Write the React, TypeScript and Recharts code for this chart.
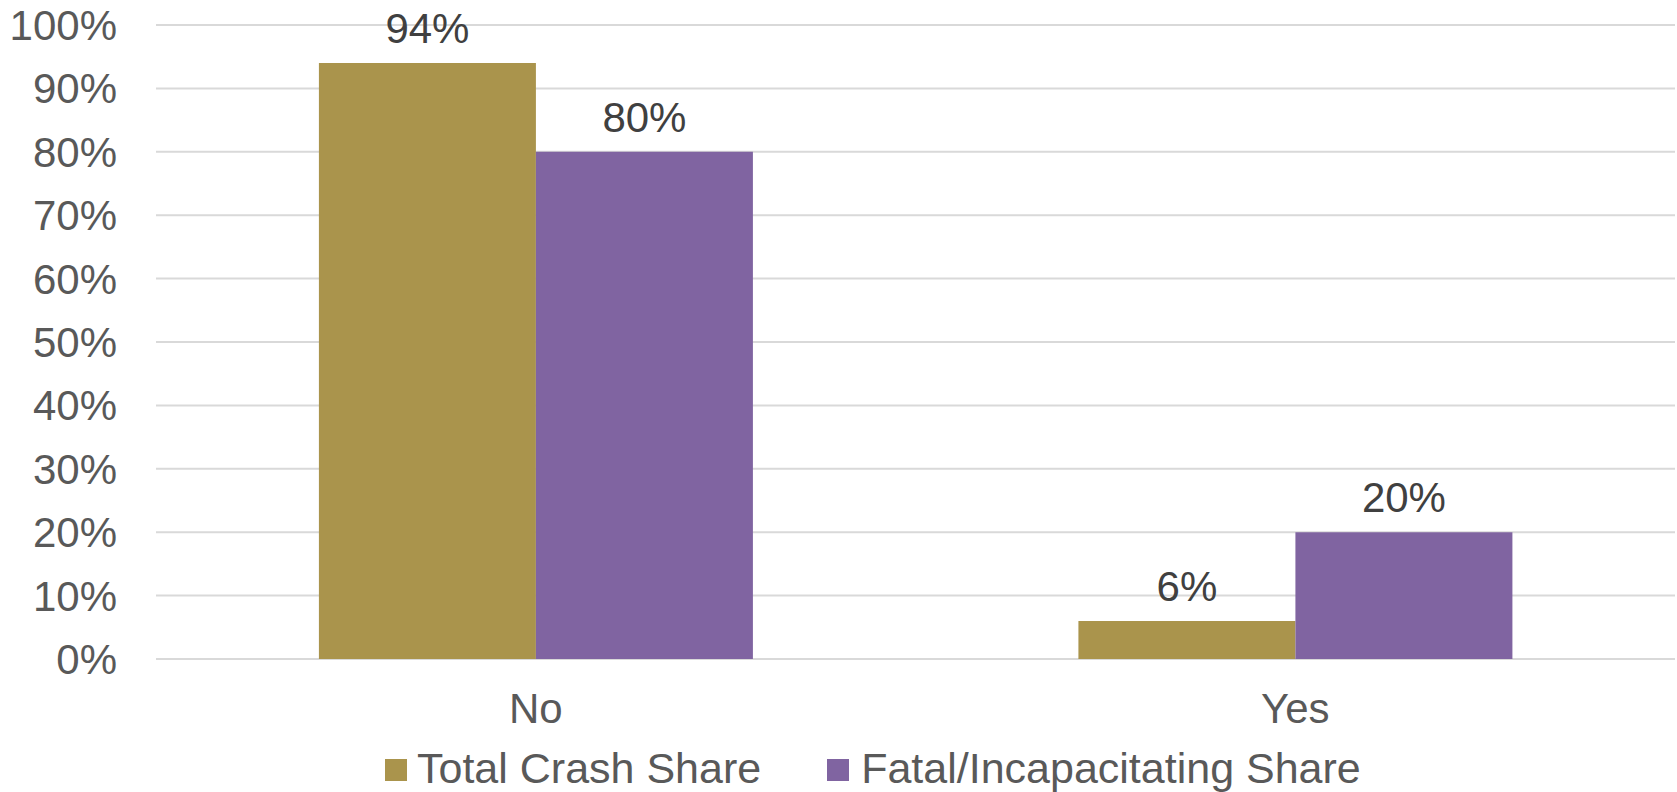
import React from 'react';
import {
  BarChart,
  Bar,
  XAxis,
  YAxis,
  CartesianGrid,
  Legend,
  LabelList
} from 'recharts';

// crash share by category, in percent
const categories = ['No', 'Yes'];
const totalCrashShare = [94, 6];
const fatalIncapacitatingShare = [80, 20];
const yTicks = [0, 10, 20, 30, 40, 50, 60, 70, 80, 90, 100];

const seriesNames = ['Total Crash Share', 'Fatal/Incapacitating Share'];
const seriesColors = ['#AA944C', '#8064A1'];

const data = categories.map((category, i) => ({
  category,
  total: totalCrashShare[i],
  fatal: fatalIncapacitatingShare[i]
}));

const FONT = '"Liberation Sans", Arial, sans-serif';

// legend keeps the series order (recharts sorts its payload by name)
const renderLegend = (props: any) => {
  const { payload = [] } = props;
  const items = [...payload].sort(
    (a: any, b: any) => seriesNames.indexOf(a.value) - seriesNames.indexOf(b.value)
  );
  return (
    <div
      style={{
        display: 'flex',
        height: 44,
        lineHeight: '44px',
        paddingLeft: 385,
        fontSize: 43,
        fontFamily: FONT,
        color: '#595959',
        whiteSpace: 'nowrap'
      }}
    >
      {items.map((entry: any, i: number) => (
        <div
          key={entry.value}
          style={{ display: 'flex', alignItems: 'flex-start', marginRight: i === 0 ? 66 : 0 }}
        >
          <span
            style={{
              display: 'block',
              width: 22,
              height: 22,
              marginTop: 13,
              marginRight: i === 0 ? 10 : 12,
              background: entry.color
            }}
          />
          <span>{entry.value}</span>
        </div>
      ))}
    </div>
  );
};

const pct = (v: number) => `${v}%`;

export default function App() {
  return (
    <div style={{ width: 1677, height: 792, background: '#fff' }}>
      <style>{'body{margin:0}'}</style>
      <BarChart
        width={1677}
        height={792}
        data={data}
        margin={{ top: 25, right: 2, left: 0, bottom: 0 }}
        barGap={0}
        barCategoryGap="21.45%"
      >
        <CartesianGrid vertical={false} stroke="#d9d9d9" strokeWidth={2} />
        <XAxis
          dataKey="category"
          axisLine={false}
          tickLine={false}
          tickSize={0}
          tickMargin={34}
          height={89}
          tick={{ fill: '#595959', fontSize: 42, fontFamily: FONT }}
        />
        <YAxis
          domain={[0, 100]}
          ticks={yTicks}
          interval={0}
          tickFormatter={pct}
          axisLine={false}
          tickLine={false}
          tickSize={0}
          tickMargin={39}
          width={156}
          tick={{ fill: '#595959', fontSize: 42, fontFamily: FONT }}
        />
        <Legend
          content={renderLegend}
          verticalAlign="bottom"
          wrapperStyle={{ top: 746, left: 0, width: 1677, height: 44 }}
        />
        <Bar dataKey="total" name={seriesNames[0]} fill={seriesColors[0]} isAnimationActive={false}>
          <LabelList
            dataKey="total"
            position="top"
            offset={20}
            formatter={pct}
            fill="#404040"
            fontSize={42}
            fontFamily={FONT}
          />
        </Bar>
        <Bar dataKey="fatal" name={seriesNames[1]} fill={seriesColors[1]} isAnimationActive={false}>
          <LabelList
            dataKey="fatal"
            position="top"
            offset={20}
            formatter={pct}
            fill="#404040"
            fontSize={42}
            fontFamily={FONT}
          />
        </Bar>
      </BarChart>
    </div>
  );
}
